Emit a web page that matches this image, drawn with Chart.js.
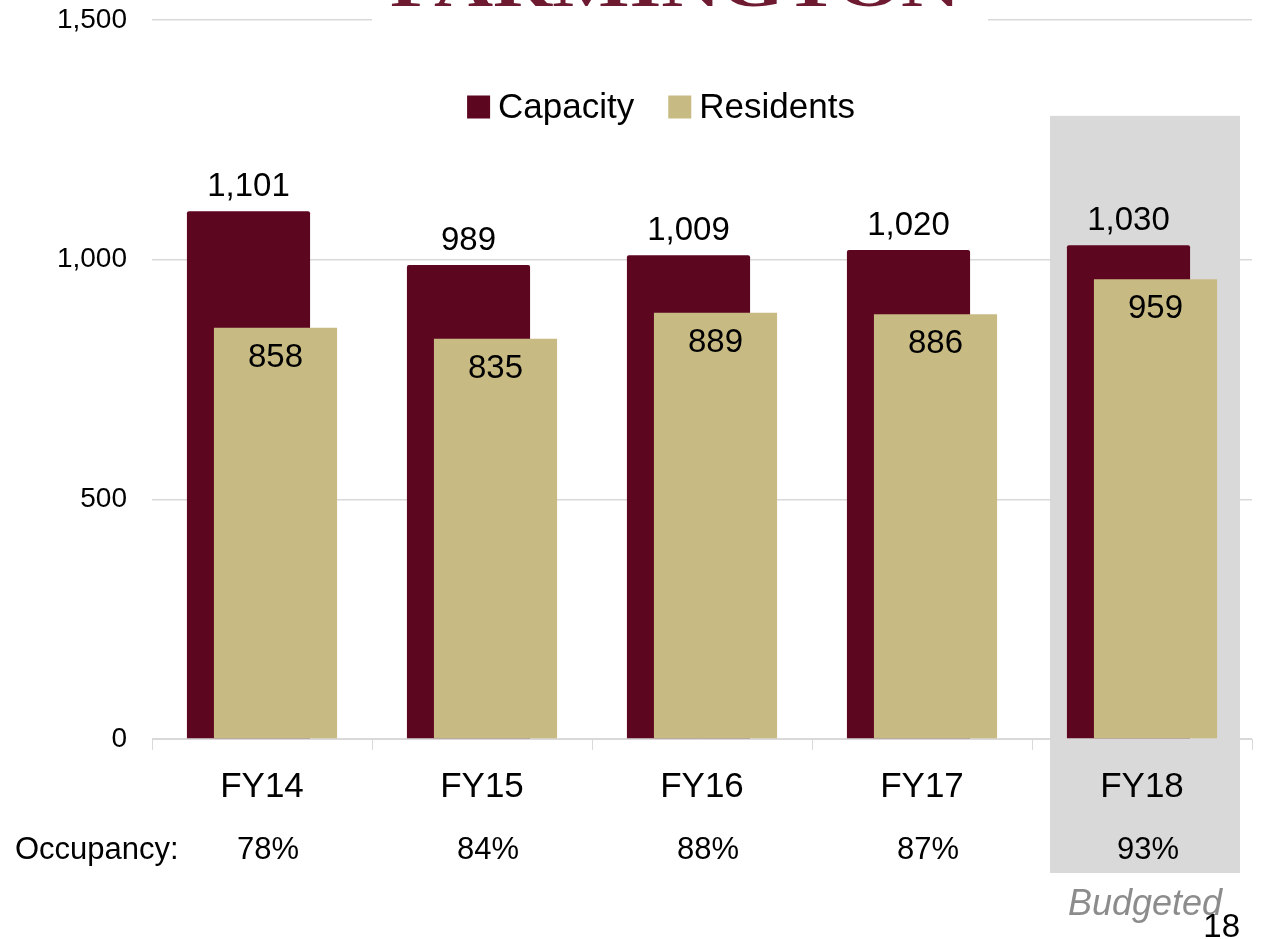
<!DOCTYPE html>
<html>
<head>
<meta charset="utf-8">
<script src="https://cdn.jsdelivr.net/npm/chart.js@4.4.1/dist/chart.umd.min.js"></script>
<style>
  html, body { margin: 0; padding: 0; background: #ffffff; }
  #wrap { width: 1261px; height: 939px; position: relative; }
  canvas { display: block; }
</style>
</head>
<body>
<div id="wrap"><canvas id="chart" width="1261" height="939"></canvas></div>
<script>
// Housing capacity vs. residents, fiscal years 14-18
const categories = ['FY14', 'FY15', 'FY16', 'FY17', 'FY18'];
const capacity   = [1101, 989, 1009, 1020, 1030];
const residents  = [858, 835, 889, 886, 959];
const occupancy  = ['78%', '84%', '88%', '87%', '93%'];
const yTicks     = [0, 500, 1000, 1500];
const budgetedIndex = 4;

const MAROON = '#5c0620';
const GOLD = '#c8ba83';
const FONT = "'Liberation Sans', Arial, sans-serif";

// Light gray panel behind the budgeted year, plus white page background
const budgetBand = {
  id: 'budgetBand',
  beforeDraw(chart) {
    const { ctx, scales: { x, y }, chartArea } = chart;
    ctx.save();
    ctx.fillStyle = '#ffffff';
    ctx.fillRect(0, 0, chart.width, chart.height);
    const cx = x.getPixelForValue(budgetedIndex);
    ctx.fillStyle = '#d9d9d9';
    const top = y.getPixelForValue(1300);
    ctx.fillRect(cx - 92, top, 190, chartArea.bottom + 134 - top);
    ctx.restore();
  }
};

// Residents bars sit in front of the capacity bars
const residentsInFront = {
  id: 'residentsInFront',
  beforeDatasetDraw(chart, args) {
    if (args.index === 1) return false;
  },
  afterDatasetsDraw(chart) {
    const meta = chart.getDatasetMeta(1);
    if (!meta.hidden) meta.controller.draw();

    const { ctx } = chart;
    ctx.save();
    ctx.fillStyle = '#000000';
    ctx.textAlign = 'center';
    ctx.textBaseline = 'middle';
    ctx.font = '33px ' + FONT;
    const fmt = v => v.toLocaleString('en-US');
    chart.getDatasetMeta(0).data.forEach((bar, i) => {
      ctx.fillText(fmt(capacity[i]), bar.x, bar.y - 24);
    });
    meta.data.forEach((bar, i) => {
      ctx.fillText(fmt(residents[i]), bar.x, bar.y + 30);
    });
    ctx.restore();
  }
};

// Legend, occupancy row, header strip and footer notes
const annotations = {
  id: 'annotations',
  afterDraw(chart) {
    const { ctx, scales: { x }, chartArea } = chart;
    ctx.save();

    // header logo strip
    ctx.fillStyle = '#ffffff';
    ctx.fillRect(372, 0, 616, 27);
    ctx.save();
    ctx.font = 'bold 62px "Liberation Serif", "DejaVu Serif", serif';
    const word = 'FARMINGTON';
    const w = ctx.measureText(word).width;
    ctx.translate(390, 6);
    ctx.scale(570 / w, 1);
    ctx.fillStyle = '#6e1a30';
    ctx.textBaseline = 'alphabetic';
    ctx.fillText(word, 0, 0);
    ctx.restore();

    // legend
    ctx.font = '35px ' + FONT;
    ctx.textBaseline = 'middle';
    ctx.textAlign = 'left';
    const items = chart.data.datasets.map(d => ({ label: d.label, color: d.backgroundColor }));
    const box = 23, gap = 8, itemGap = 34;
    const widths = items.map(it => box + gap + ctx.measureText(it.label).width);
    const total = widths.reduce((a, b) => a + b, 0) + itemGap * (items.length - 1);
    let lx = 661 - total / 2;
    const ly = 107;
    items.forEach((it, i) => {
      ctx.fillStyle = it.color;
      ctx.fillRect(lx, ly - box / 2, box, box);
      ctx.fillStyle = '#000000';
      ctx.fillText(it.label, lx + box + gap, ly + 1);
      lx += widths[i] + itemGap;
    });

    // occupancy row
    const rowY = chartArea.bottom + 111;
    ctx.font = '31px ' + FONT;
    ctx.fillStyle = '#000000';
    ctx.textAlign = 'left';
    ctx.fillText('Occupancy:', 15, rowY);
    ctx.textAlign = 'center';
    occupancy.forEach((t, i) => {
      ctx.fillText(t, x.getPixelForValue(i) + 6, rowY);
    });

    // budgeted note and page number
    ctx.font = 'italic 36px ' + FONT;
    ctx.fillStyle = '#8c8c8c';
    ctx.textAlign = 'center';
    ctx.fillText('Budgeted', x.getPixelForValue(budgetedIndex) + 3, chartArea.bottom + 166);
    ctx.font = '33px ' + FONT;
    ctx.fillStyle = '#000000';
    ctx.textAlign = 'right';
    ctx.textBaseline = 'alphabetic';
    ctx.fillText('18', 1240, 937);

    ctx.restore();
  }
};

new Chart(document.getElementById('chart'), {
  type: 'bar',
  data: {
    labels: categories,
    datasets: [
      { label: 'Capacity', data: capacity, backgroundColor: MAROON, borderRadius: 2, borderSkipped: 'bottom' },
      { label: 'Residents', data: residents, backgroundColor: GOLD }
    ]
  },
  options: {
    responsive: false,
    devicePixelRatio: 1,
    animation: false,
    categoryPercentage: 0.2455,
    barPercentage: 4.56,
    layout: { padding: { top: 20, right: 9, left: 0, bottom: 0 } },
    plugins: { legend: { display: false }, tooltip: { enabled: false } },
    scales: {
      x: {
        offset: true,
        grid: { display: true, drawOnChartArea: false, offset: true, tickLength: 11, color: '#d9d9d9', lineWidth: 1 },
        border: { display: true, color: '#d9d9d9', width: 1 },
        ticks: { color: '#000000', font: { family: FONT, size: 35 }, padding: 16 },
        afterFit(s) { s.height = 200; }
      },
      y: {
        min: 0,
        max: 1500,
        afterBuildTicks(s) { s.ticks = yTicks.map(v => ({ value: v })); },
        grid: { color: '#d9d9d9', drawTicks: false, lineWidth: 1.5 },
        border: { display: false },
        ticks: {
          color: '#000000',
          font: { family: FONT, size: 28 },
          padding: 25,
          callback: v => Number(v).toLocaleString('en-US')
        },
        afterFit(s) {
          s.width = 152;
          s.paddingTop = 0;
          s.paddingBottom = 0;
        }
      }
    }
  },
  plugins: [budgetBand, residentsInFront, annotations]
});
</script>
</body>
</html>
